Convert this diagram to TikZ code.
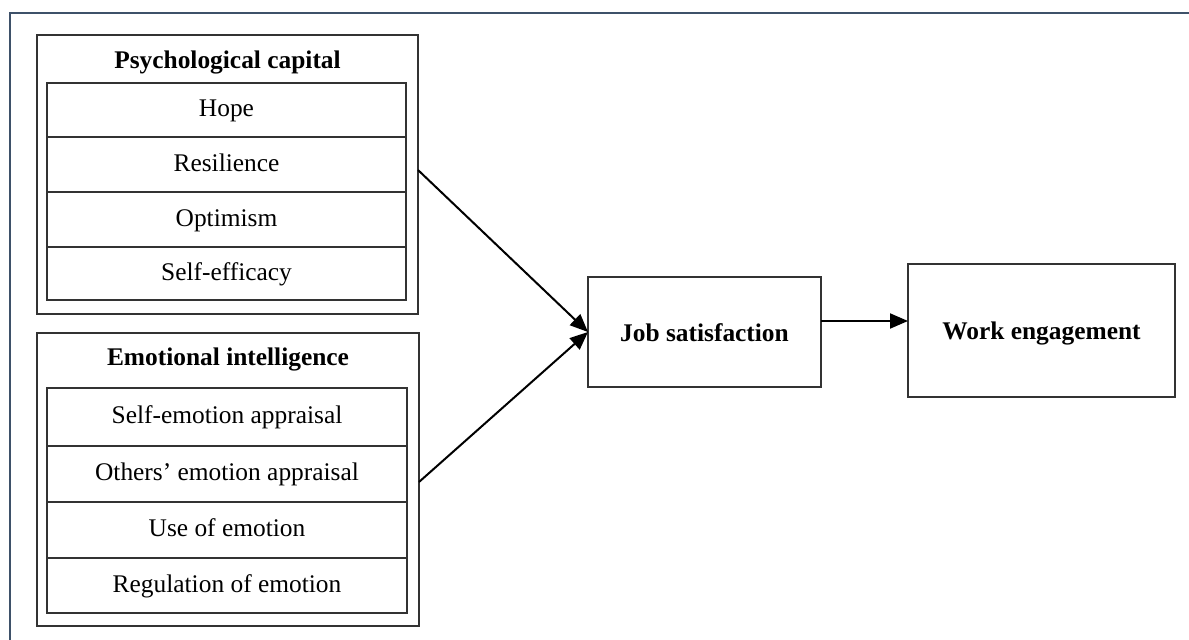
\documentclass[tikz,border=0pt]{standalone}
\usepackage{fontspec}
\setmainfont{Liberation Serif}
\usetikzlibrary{arrows.meta}
\definecolor{framecol}{HTML}{3E5169}
\definecolor{boxcol}{HTML}{333333}
\begin{document}
\begin{tikzpicture}[x=1pt,y=-1pt,
  txt/.style={font=\fontsize{25.4}{30}\selectfont, inner sep=0pt, outer sep=0pt, text height=19pt, text depth=5.2pt},
  outerbox/.style={draw=boxcol, line width=1.3pt, inner sep=0pt, outer sep=0pt},
  rowbox/.style={draw=boxcol, line width=1.3pt, txt},
  mainbox/.style={draw=boxcol, line width=1.3pt, txt, font=\fontsize{25.4}{30}\selectfont\bfseries, text height=22pt, text depth=3.2pt},
  titletxt/.style={txt, font=\fontsize{25.4}{30}\selectfont\bfseries},
  arr/.style={line width=2pt, -{Triangle[length=18pt,width=15pt]}},
  framestyle/.style={draw=framecol, line width=2.2pt}
]
\useasboundingbox (0,0) rectangle (1189,640);
\fill[white] (0,0) rectangle (1189,640);
\draw[framestyle] (10,641) -- (10,13) -- (1190,13);

% Psychological capital
\node[outerbox, minimum width=381pt, minimum height=279pt] (pc) at (227.5,174.5) {};
\node[titletxt] (pct) at (227.5,62) {Psychological capital};
\node[rowbox, minimum width=359pt, minimum height=54pt] (r1) at (226.5,110) {Hope};
\node[rowbox, minimum width=359pt, minimum height=55pt] (r2) at (226.5,164.5) {Resilience};
\node[rowbox, minimum width=359pt, minimum height=55pt] (r3) at (226.5,219.5) {Optimism};
\node[rowbox, minimum width=359pt, minimum height=53pt] (r4) at (226.5,273.5) {Self-efficacy};

% Emotional intelligence
\node[outerbox, minimum width=382pt, minimum height=293pt] (ei) at (228,479.5) {};
\node[titletxt] (eit) at (228,359) {Emotional intelligence};
\node[rowbox, minimum width=360pt, minimum height=58pt] (e1) at (227,417) {Self-emotion appraisal};
\node[rowbox, minimum width=360pt, minimum height=56pt] (e2) at (227,474) {Others’ emotion appraisal};
\node[rowbox, minimum width=360pt, minimum height=56pt] (e3) at (227,530) {Use of emotion};
\node[rowbox, minimum width=360pt, minimum height=55pt] (e4) at (227,585.5) {Regulation of emotion};

% Job satisfaction and Work engagement
\node[mainbox, minimum width=233pt, minimum height=110pt] (js) at (704.5,332) {Job satisfaction};
\node[mainbox, minimum width=267pt, minimum height=133pt] (we) at (1041.5,330.5) {Work engagement};

% Connectors
\draw[arr] ([yshift=4.5pt]pc.east) -- (js.west);
\draw[arr] ([yshift=-2.5pt]ei.east) -- (js.west);
\draw[arr] ([yshift=11pt]js.east) -- ([yshift=9.5pt]we.west);
\end{tikzpicture}
\end{document}
